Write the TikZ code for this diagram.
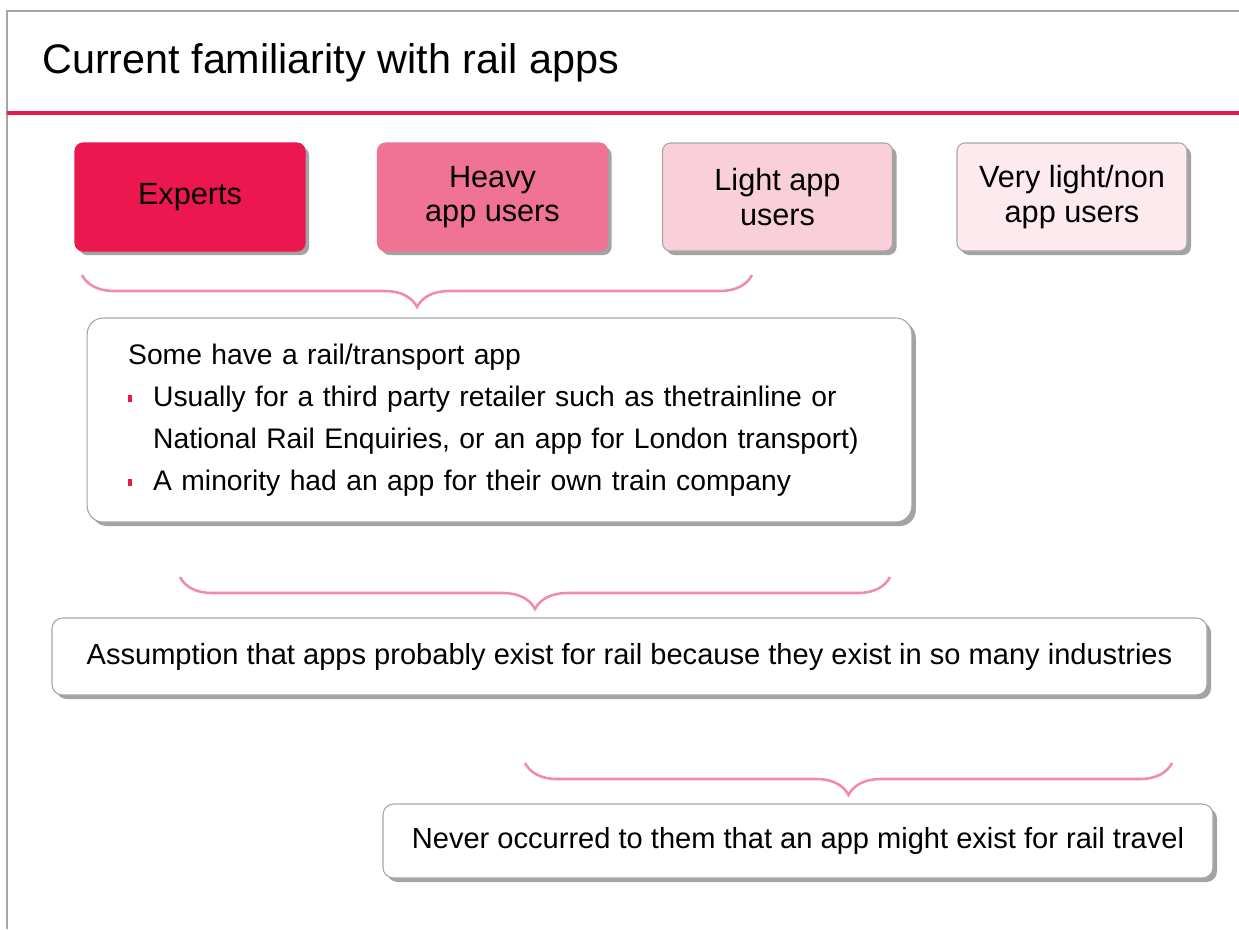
\documentclass[tikz,border=0pt]{standalone}
\usepackage{fontspec}
\setmainfont{Liberation Sans}
\usetikzlibrary{shadows,decorations.pathreplacing}

\definecolor{railred}{HTML}{E8194A}
\definecolor{expertfill}{HTML}{EC174F}
\definecolor{heavyfill}{HTML}{F07395}
\definecolor{lightfill}{HTML}{F9D0DA}
\definecolor{vlightfill}{HTML}{FDEAEF}
\definecolor{bracepink}{HTML}{F28BA6}
\definecolor{edgegray}{HTML}{A6A6A6}

\newcommand{\bulletmark}{\makebox[18.75pt][l]{\textcolor{railred}{\rule[0.3ex]{2.5pt}{5pt}}}}

\tikzset{
  boxshadow/.style={drop shadow={shadow xshift=3pt, shadow yshift=-3pt, fill=black!45, opacity=0.8}},
  usergroup/.style={rounded corners=6pt, draw=edgegray, line width=0.8pt,
    minimum width=172.5pt, minimum height=81pt, align=center,
    font=\fontsize{23}{26}\selectfont, boxshadow},
  findingbox/.style={rounded corners=8pt, draw=edgegray, line width=0.8pt,
    fill=white, font=\fontsize{21.8}{31.5}\selectfont, boxshadow},
  groupbrace/.style={decorate, decoration={brace, mirror, amplitude=24pt},
    bracepink, line width=1.9pt},
}

\begin{document}
\begin{tikzpicture}[x=0.75pt, y=-0.75pt]
    \useasboundingbox (0,0) rectangle (1239,929);
    \fill[white] (0,0) rectangle (1239,929);
    % Slide frame and title
    \draw[edgegray, line width=0.8pt] (7,929) -- (7,11) -- (1239,11);
    \node[anchor=base west, inner sep=0pt, font=\fontsize{31}{36}\selectfont] (title) at (42,73) {Current familiarity with rail apps};
    \draw[railred, line width=3pt] (7,113) -- (1239,113);
    % User groups
    \node[usergroup, fill=expertfill, draw=expertfill] (experts) at (190,197) {Experts};
    \node[usergroup, fill=heavyfill, draw=heavyfill] (heavy) at (492.5,197) {Heavy\\app users};
    \node[usergroup, fill=lightfill] (light) at (777.5,197) {Light app\\users};
    \node[usergroup, fill=vlightfill] (vlight) at (1072,197) {Very light/non\\app users};
    % Findings
    \node[findingbox, rounded corners=12pt, font=\fontsize{21.2}{31.5}\selectfont, minimum height=153pt, text width=557pt, inner xsep=30.75pt, align=left] (someapp) at (499.5,420)
      {Some have a rail/transport app\\
       \bulletmark Usually for a third party retailer such as thetrainline or\\
       \hspace*{18.75pt}National Rail Enquiries, or an app for London transport)\\
       \bulletmark A minority had an app for their own train company};
    \node[findingbox, minimum width=866.25pt, minimum height=57.75pt] (assume) at (629.5,656.5)
      {Assumption that apps probably exist for rail because they exist in so many industries};
    \node[findingbox, minimum width=622.5pt, minimum height=55.5pt] (never) at (798,841)
      {Never occurred to them that an app might exist for rail travel};
    % Braces
    \coordinate (b1l) at (82,275);   \coordinate (b1r) at (752,275);
    \coordinate (b2l) at (180,577);  \coordinate (b2r) at (890,577);
    \coordinate (b3l) at (525,763);  \coordinate (b3r) at (1172,763);
    \draw[groupbrace] (b1l) -- (b1r);
    \draw[groupbrace] (b2l) -- (b2r);
    \draw[groupbrace] (b3l) -- (b3r);
\end{tikzpicture}
\end{document}
